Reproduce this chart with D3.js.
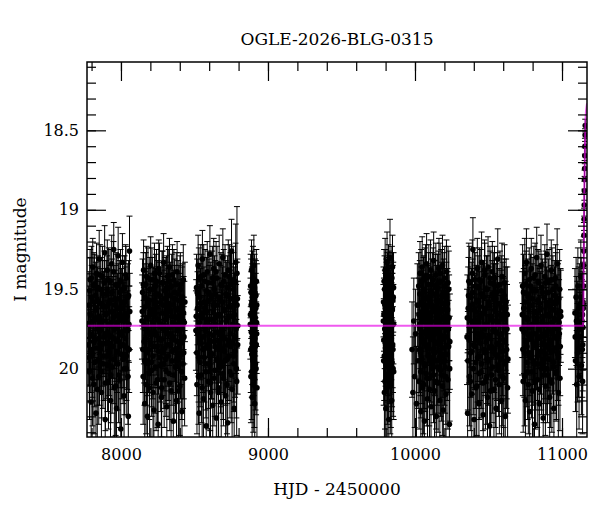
<!DOCTYPE html>
<html>
<head>
<meta charset="utf-8">
<script src="https://cdn.jsdelivr.net/npm/d3@7"></script>
<style>
  body { margin: 0; background: #fff; }
  text { font-family: "DejaVu Serif", serif; fill: #000; }
</style>
</head>
<body>
<svg width="600" height="512"></svg>
<script>
var title = "OGLE-2026-BLG-0315";
var xLabel = "HJD - 2450000";
var yLabel = "I magnitude";
var xTicks = [8000, 9000, 10000, 11000];
var yTicks = [18.5, 19, 19.5, 20];

// [HJD-2450000, I mag, error]
var season1 = [[7778,19.85,.26],[7782,19.60,.21],[7786,20.02,.30],[7790,19.44,.19],[7793,19.78,.24],[7797,20.21,.33],[7801,19.55,.20],[7805,19.91,.27],[7808,19.36,.18],[7812,19.70,.23],[7816,20.10,.31],[7819,19.48,.20],[7823,19.82,.25],[7827,19.63,.22],[7830,20.28,.35],[7834,19.40,.19],[7838,19.95,.28],[7841,19.57,.21],[7845,19.75,.24],[7849,20.05,.30],[7852,19.31,.18],[7856,19.68,.23],[7860,19.88,.26],[7863,19.50,.20],[7867,20.15,.32],[7871,19.73,.24],[7874,19.42,.19],[7878,19.97,.28],[7882,19.61,.22],[7885,19.80,.25],[7889,19.27,.17],[7893,20.32,.36],[7896,19.66,.23],[7900,19.53,.21],[7904,19.92,.27],[7907,19.38,.19],[7911,19.77,.24],[7915,20.08,.30],[7918,19.59,.21],[7922,19.84,.26],[7926,19.45,.20],[7929,20.20,.33],[7933,19.71,.24],[7937,19.34,.18],[7940,19.99,.29],[7944,19.64,.22],[7948,19.81,.25],[7951,19.25,.17],[7955,20.12,.31],[7959,19.56,.21],[7962,19.74,.24],[7966,19.47,.20],[7970,20.25,.34],[7973,19.89,.26],[7977,19.62,.22],[7981,19.29,.18],[7984,20.04,.30],[7988,19.69,.23],[7992,19.52,.20],[7995,19.86,.26],[7999,20.38,.37],[8003,19.58,.21],[8006,19.79,.25],[8010,19.33,.18],[8014,19.94,.28],[8017,19.67,.23],[8021,20.17,.32],[8025,19.49,.20],[8028,19.76,.24],[8032,19.41,.19],[8036,20.00,.29],[8039,19.65,.22],[8043,19.87,.26],[8047,19.55,.21],[8050,20.30,.35],[8054,19.72,.24],[8058,19.26,.22]];
var season1b = [[7780,19.72,.24],[7784,19.93,.28],[7788,19.51,.21],[7791,19.66,.23],[7795,19.88,.27],[7799,19.43,.20],[7803,19.79,.25],[7806,20.06,.30],[7810,19.58,.22],[7814,19.83,.26],[7817,19.47,.20],[7821,19.96,.28],[7825,19.69,.24],[7828,19.54,.21],[7832,19.87,.27],[7836,19.62,.22],[7839,20.13,.32],[7843,19.49,.20],[7847,19.81,.26],[7850,19.67,.23],[7854,19.95,.28],[7858,19.41,.19],[7861,19.76,.25],[7865,19.59,.22],[7869,20.02,.29],[7872,19.85,.26],[7876,19.53,.21],[7880,19.70,.24],[7883,19.92,.28],[7887,19.46,.20],[7891,19.78,.25],[7894,20.09,.30],[7898,19.61,.22],[7902,19.84,.26],[7905,19.50,.21],[7909,19.98,.29],[7913,19.65,.23],[7916,19.44,.20],[7920,19.90,.27],[7924,19.73,.24],[7927,19.57,.22],[7931,20.04,.30],[7935,19.80,.26],[7938,19.52,.21],[7942,19.86,.27],[7946,19.68,.24],[7949,19.39,.19],[7953,19.94,.28],[7957,19.75,.25],[7960,19.60,.22],[7964,20.11,.31],[7968,19.82,.26],[7971,19.48,.20],[7975,19.71,.24],[7979,19.97,.29],[7982,19.56,.22],[7986,19.83,.26],[7990,19.66,.23],[7993,20.07,.30],[7997,19.45,.20],[8001,19.77,.25],[8004,19.91,.28],[8008,19.62,.22],[8012,19.50,.21],[8015,19.85,.27],[8019,19.70,.24],[8023,20.00,.29],[8026,19.58,.22],[8030,19.81,.26],[8034,19.43,.20],[8037,19.92,.28],[8041,19.67,.23],[8045,19.76,.25],[8048,20.05,.30],[8052,19.54,.22],[8056,19.88,.27],[8060,19.64,.24]];
var season2 = [[8143,19.70,.24],[8147,19.52,.21],[8151,20.05,.30],[8154,19.38,.19],[8158,19.83,.26],[8162,20.22,.34],[8165,19.61,.22],[8169,19.47,.20],[8173,19.95,.28],[8176,19.74,.24],[8180,20.30,.36],[8184,19.43,.19],[8187,19.88,.27],[8191,19.57,.21],[8195,20.12,.31],[8198,19.66,.23],[8202,19.35,.18],[8206,19.79,.25],[8209,20.01,.29],[8213,19.50,.20],[8217,19.92,.27],[8220,19.63,.22],[8224,20.26,.35],[8228,19.40,.19],[8231,19.77,.24],[8235,19.58,.21],[8239,20.09,.30],[8242,19.45,.20],[8246,19.86,.26],[8250,19.69,.23],[8253,20.35,.37],[8257,19.37,.18],[8261,19.81,.25],[8264,19.54,.21],[8268,19.98,.29],[8272,19.72,.24],[8275,20.18,.33],[8279,19.46,.20],[8283,19.90,.27],[8286,19.60,.22],[8290,19.33,.18],[8294,20.07,.30],[8297,19.75,.24],[8301,19.51,.21],[8305,19.94,.28],[8308,19.67,.23],[8312,20.24,.34],[8316,19.42,.19],[8319,19.85,.26],[8323,19.59,.22],[8327,20.03,.29],[8330,19.36,.18],[8334,19.78,.25],[8338,19.64,.23],[8341,20.14,.32],[8345,19.48,.20],[8349,19.89,.27],[8352,19.71,.24],[8356,20.33,.36],[8360,19.44,.19],[8363,19.82,.26],[8367,19.56,.21],[8371,19.99,.29],[8374,19.68,.23],[8378,20.20,.33],[8382,19.39,.19],[8385,19.76,.24],[8389,19.53,.21],[8393,19.93,.28],[8396,19.62,.22],[8400,20.11,.31],[8404,19.47,.20],[8407,19.84,.26],[8411,19.70,.24],[8415,20.27,.35],[8418,19.55,.21],[8422,19.97,.28],[8426,19.65,.23],[8429,19.80,.25],[8433,20.06,.30]];
var season2b = [[8145,19.64,.23],[8149,19.88,.27],[8152,19.47,.20],[8156,19.73,.24],[8160,19.95,.28],[8163,19.55,.21],[8167,19.81,.26],[8171,20.10,.31],[8174,19.42,.19],[8178,19.68,.23],[8182,19.90,.27],[8185,19.59,.22],[8189,19.77,.25],[8193,20.03,.29],[8196,19.50,.20],[8200,19.84,.26],[8204,19.63,.23],[8207,19.96,.28],[8211,19.44,.20],[8215,19.71,.24],[8218,20.15,.32],[8222,19.57,.21],[8226,19.86,.26],[8229,19.66,.23],[8233,19.99,.29],[8237,19.48,.20],[8240,19.79,.25],[8244,19.61,.22],[8248,20.07,.30],[8251,19.53,.21],[8255,19.89,.27],[8259,19.70,.24],[8262,19.40,.19],[8266,19.93,.28],[8270,19.58,.22],[8273,19.82,.26],[8277,20.12,.31],[8281,19.65,.23],[8284,19.46,.20],[8288,19.75,.25],[8292,19.97,.28],[8295,19.56,.21],[8299,19.87,.27],[8303,19.69,.24],[8306,20.01,.29],[8310,19.49,.20],[8314,19.78,.25],[8317,19.62,.22],[8321,19.92,.28],[8325,19.45,.20],[8328,19.74,.24],[8332,20.09,.30],[8336,19.54,.21],[8339,19.85,.26],[8343,19.67,.23],[8347,19.95,.28],[8350,19.41,.19],[8354,19.80,.25],[8358,19.60,.22],[8361,20.04,.30],[8365,19.52,.21],[8369,19.88,.27],[8372,19.72,.24],[8376,19.47,.20],[8380,19.94,.28],[8383,19.63,.23],[8387,19.83,.26],[8391,20.14,.32],[8394,19.57,.22],[8398,19.76,.25],[8402,19.50,.21],[8405,19.91,.28],[8409,19.68,.24],[8413,20.02,.30],[8416,19.59,.23],[8420,19.81,.26],[8424,19.44,.22],[8427,19.90,.29],[8431,19.71,.26],[8435,19.58,.25]];
var season3 = [[8510,19.76,.25],[8514,19.49,.21],[8517,20.10,.31],[8521,19.62,.23],[8525,19.35,.19],[8528,19.93,.28],[8532,20.28,.35],[8536,19.55,.21],[8539,19.81,.26],[8543,19.42,.20],[8547,20.04,.30],[8550,19.68,.24],[8554,19.31,.18],[8558,19.88,.27],[8561,20.19,.33],[8565,19.58,.22],[8569,19.74,.24],[8572,19.45,.20],[8576,19.97,.29],[8580,20.36,.37],[8583,19.64,.23],[8587,19.39,.19],[8591,19.85,.26],[8594,20.08,.30],[8598,19.52,.21],[8602,19.78,.25],[8605,19.28,.18],[8609,20.15,.32],[8613,19.69,.24],[8616,19.91,.28],[8620,19.46,.20],[8624,20.23,.34],[8627,19.60,.22],[8631,19.37,.19],[8635,19.83,.26],[8638,20.01,.29],[8642,19.53,.21],[8646,19.72,.24],[8649,20.31,.36],[8653,19.43,.20],[8657,19.87,.27],[8660,19.66,.23],[8664,20.12,.31],[8668,19.34,.18],[8671,19.79,.25],[8675,19.57,.22],[8679,19.96,.28],[8682,20.21,.34],[8686,19.48,.20],[8690,19.75,.24],[8693,19.30,.18],[8697,20.06,.30],[8701,19.63,.23],[8704,19.89,.27],[8708,19.41,.19],[8712,20.17,.32],[8715,19.70,.24],[8719,19.54,.21],[8723,19.94,.28],[8726,20.34,.36],[8730,19.38,.19],[8734,19.82,.26],[8737,19.61,.22],[8741,20.02,.29],[8745,19.47,.20],[8748,19.86,.27],[8752,19.26,.20],[8756,20.13,.31],[8759,19.67,.23],[8763,19.44,.21],[8767,19.92,.29],[8770,20.25,.35],[8774,19.59,.23],[8778,19.80,.26],[8781,19.33,.24],[8785,20.00,.31],[8789,19.40,.42],[8792,19.56,.25],[8795,19.73,.28]];
var season3b = [[8512,19.67,.23],[8516,19.90,.27],[8519,19.52,.21],[8523,19.78,.25],[8527,20.05,.30],[8530,19.44,.20],[8534,19.71,.24],[8538,19.96,.28],[8541,19.59,.22],[8545,19.84,.26],[8549,19.48,.20],[8552,20.12,.31],[8556,19.65,.23],[8560,19.80,.26],[8563,19.41,.19],[8567,19.93,.28],[8571,19.62,.22],[8574,19.76,.25],[8578,20.02,.29],[8581,19.51,.21],[8585,19.87,.27],[8589,19.69,.24],[8592,19.46,.20],[8596,19.97,.28],[8600,19.57,.22],[8603,19.82,.26],[8607,20.09,.30],[8611,19.54,.21],[8614,19.73,.24],[8618,19.91,.28],[8622,19.43,.20],[8625,19.79,.25],[8629,19.64,.23],[8633,20.06,.30],[8636,19.50,.21],[8640,19.86,.27],[8644,19.68,.24],[8647,19.39,.19],[8651,19.94,.28],[8655,19.60,.22],[8658,19.77,.25],[8662,20.15,.32],[8666,19.55,.21],[8669,19.83,.26],[8673,19.66,.23],[8677,19.99,.29],[8680,19.47,.20],[8684,19.74,.24],[8688,19.88,.27],[8691,19.58,.22],[8695,20.03,.29],[8699,19.45,.20],[8702,19.81,.26],[8706,19.63,.23],[8710,19.95,.28],[8713,19.53,.21],[8717,19.70,.24],[8721,20.10,.31],[8724,19.49,.20],[8728,19.85,.27],[8732,19.67,.24],[8735,19.92,.28],[8739,19.42,.20],[8743,19.78,.25],[8746,19.61,.23],[8750,20.04,.30],[8754,19.56,.22],[8757,19.84,.27],[8761,19.72,.25],[8765,19.50,.23],[8768,19.97,.30],[8772,19.66,.26],[8776,19.89,.29],[8779,19.45,.24],[8783,19.75,.28],[8787,20.08,.34],[8790,19.60,.27],[8794,19.85,.31]];
var season4 = [[8880,19.72,.22],[8882,19.48,.20],[8884,20.05,.29],[8886,19.60,.21],[8888,19.38,.19],[8890,19.91,.27],[8892,20.18,.32],[8894,19.55,.21],[8896,19.80,.25],[8898,19.43,.20],[8900,20.10,.30],[8902,19.66,.23],[8904,19.35,.19],[8906,19.95,.28],[8908,19.74,.24],[8910,20.22,.33],[8912,19.52,.21],[8914,19.86,.26],[8917,19.62,.22],[8919,20.00,.29],[8921,19.45,.20],[8923,19.78,.25],[8925,20.12,.40]];
var season4b = [[8881,19.66,.23],[8883,19.88,.27],[8885,19.52,.21],[8887,19.77,.25],[8889,20.02,.30],[8891,19.58,.22],[8893,19.84,.26],[8895,19.46,.20],[8897,19.95,.28],[8899,19.70,.24],[8901,19.56,.22],[8903,19.90,.27],[8905,19.63,.23],[8907,20.06,.31],[8909,19.49,.21],[8911,19.81,.26],[8913,19.68,.24],[8915,19.97,.29],[8918,19.54,.22],[8920,19.85,.27],[8922,19.71,.25],[8924,19.60,.26]];
var season5 = [[9785,19.70,.23],[9787,19.95,.28],[9790,19.45,.20],[9792,20.15,.32],[9795,19.60,.22],[9797,19.38,.20],[9800,19.85,.26],[9802,20.25,.34],[9805,19.52,.21],[9807,19.76,.24],[9810,19.33,.19],[9812,20.05,.30],[9815,19.65,.23],[9817,19.90,.27],[9820,19.42,.20],[9822,20.32,.36],[9825,19.57,.22],[9827,19.80,.25],[9830,19.30,.24],[9832,20.10,.31],[9835,19.68,.23],[9837,19.48,.21],[9840,19.98,.29],[9842,20.20,.33],[9845,19.62,.22],[9847,19.36,.20],[9850,19.88,.27],[9852,19.55,.22],[9855,20.02,.30]];
var season5b = [[9786,19.58,.22],[9788,19.82,.26],[9789,19.66,.23],[9791,19.92,.28],[9793,19.50,.21],[9794,19.75,.25],[9796,20.08,.30],[9798,19.62,.22],[9799,19.87,.27],[9801,19.45,.20],[9803,19.71,.24],[9804,19.97,.29],[9806,19.55,.22],[9808,19.80,.26],[9809,19.64,.23],[9811,20.12,.32],[9813,19.48,.21],[9814,19.78,.25],[9816,19.93,.28],[9818,19.59,.22],[9819,19.73,.24],[9821,20.03,.29],[9823,19.51,.21],[9824,19.84,.26],[9826,19.67,.23],[9828,19.94,.28],[9829,19.46,.20],[9831,19.77,.25],[9833,19.60,.22],[9834,19.89,.27],[9836,20.07,.30],[9838,19.53,.21],[9839,19.81,.26],[9841,19.70,.24],[9843,19.43,.20],[9844,19.96,.28],[9846,19.63,.23],[9848,19.85,.27],[9849,19.57,.22],[9851,20.00,.30],[9853,19.72,.25],[9854,19.49,.22]];
var season6 = [[9980,19.88,.30],[9986,20.15,.35],[9992,19.70,.27],[9998,20.05,.32],[10004,19.78,.28],[10010,20.22,.36],[10016,19.60,.26],[10021,19.95,.30],[10025,19.48,.21],[10028,20.08,.30],[10031,19.72,.24],[10034,19.40,.20],[10037,19.90,.27],[10040,20.27,.35],[10043,19.58,.22],[10046,19.82,.26],[10049,19.36,.19],[10052,20.12,.31],[10055,19.66,.23],[10058,19.51,.21],[10061,19.97,.28],[10064,20.33,.36],[10067,19.44,.20],[10070,19.77,.25],[10073,19.62,.22],[10076,20.03,.29],[10079,19.34,.19],[10082,19.87,.27],[10085,20.19,.33],[10088,19.55,.21],[10091,19.74,.24],[10094,19.42,.20],[10097,20.06,.30],[10100,19.69,.23],[10103,19.93,.28],[10106,19.38,.19],[10109,20.24,.34],[10112,19.60,.22],[10115,19.80,.25],[10118,19.47,.20],[10121,20.00,.29],[10124,19.64,.23],[10127,19.32,.18],[10130,19.89,.27],[10133,20.14,.32],[10136,19.53,.21],[10139,19.76,.24],[10142,19.41,.20],[10145,20.30,.36],[10148,19.67,.23],[10151,19.95,.28],[10154,19.49,.21],[10157,20.09,.31],[10160,19.71,.24],[10163,19.37,.19],[10166,19.84,.26],[10169,20.20,.33],[10172,19.57,.22],[10175,19.79,.25],[10178,19.45,.20],[10181,20.04,.29],[10184,19.63,.23],[10187,19.35,.19],[10190,19.91,.27],[10193,20.26,.35],[10196,19.52,.21],[10199,19.73,.24],[10202,19.43,.20],[10205,19.99,.29],[10208,19.68,.23],[10211,20.16,.32],[10214,19.39,.20],[10217,19.86,.27],[10220,19.59,.22],[10224,20.07,.31],[10227,19.75,.26],[10230,19.50,.24],[10234,20.35,.40],[10237,19.83,.30]];
var season6b = [[10027,19.66,.23],[10030,19.88,.27],[10033,19.53,.21],[10036,19.75,.25],[10039,20.02,.29],[10042,19.45,.20],[10045,19.70,.24],[10048,19.94,.28],[10051,19.60,.22],[10054,19.83,.26],[10057,20.10,.31],[10060,19.50,.21],[10063,19.77,.25],[10066,19.64,.23],[10069,19.98,.29],[10072,19.42,.20],[10075,19.85,.26],[10078,19.68,.24],[10081,20.06,.30],[10084,19.56,.21],[10087,19.79,.25],[10090,19.92,.28],[10093,19.47,.20],[10096,19.72,.24],[10099,20.13,.32],[10102,19.58,.22],[10105,19.81,.26],[10108,19.65,.23],[10111,19.96,.28],[10114,19.52,.21],[10117,19.74,.24],[10120,19.88,.27],[10123,19.44,.20],[10126,20.04,.30],[10129,19.61,.22],[10132,19.78,.25],[10135,19.90,.27],[10138,19.49,.21],[10141,19.70,.24],[10144,20.08,.30],[10147,19.57,.22],[10150,19.84,.26],[10153,19.66,.23],[10156,19.99,.29],[10159,19.46,.20],[10162,19.76,.25],[10165,19.93,.28],[10168,19.62,.23],[10171,19.40,.19],[10174,20.01,.29],[10177,19.69,.24],[10180,19.82,.26],[10183,19.54,.21],[10186,20.11,.31],[10189,19.73,.24],[10192,19.59,.22],[10195,19.87,.27],[10198,19.48,.21],[10201,19.95,.28],[10204,19.67,.24],[10207,19.80,.26],[10210,20.05,.30],[10213,19.55,.22],[10216,19.71,.25],[10219,19.91,.29],[10222,19.63,.24],[10225,19.46,.23],[10229,19.86,.29],[10232,19.68,.27],[10236,20.00,.33]];
var season7 = [[10354,19.80,.30],[10358,20.28,.38],[10362,19.62,.26],[10366,19.45,.24],[10370,20.05,.31],[10374,19.74,.25],[10378,19.90,.28],[10382,19.55,.22],[10386,20.16,.33],[10390,19.40,.21],[10394,19.25,.20],[10398,19.85,.27],[10402,20.32,.37],[10405,19.63,.23],[10409,19.48,.21],[10413,19.96,.29],[10416,19.71,.24],[10420,20.11,.31],[10424,19.37,.19],[10427,19.82,.26],[10431,19.58,.22],[10435,20.22,.34],[10438,19.44,.20],[10442,19.92,.28],[10446,19.67,.23],[10449,20.02,.29],[10453,19.33,.19],[10457,19.78,.25],[10460,19.53,.21],[10464,20.29,.35],[10468,19.65,.23],[10471,19.88,.27],[10475,19.41,.20],[10479,20.08,.30],[10482,19.72,.24],[10486,19.50,.21],[10490,19.94,.28],[10493,20.18,.33],[10497,19.36,.19],[10501,19.81,.26],[10504,19.60,.22],[10508,20.36,.37],[10512,19.46,.20],[10515,19.87,.27],[10519,19.69,.24],[10523,20.04,.30],[10526,19.39,.19],[10530,19.76,.25],[10534,19.56,.22],[10537,20.13,.32],[10541,19.43,.20],[10545,19.91,.28],[10548,19.64,.23],[10552,20.25,.34],[10556,19.52,.21],[10559,19.84,.26],[10563,19.31,.19],[10567,19.98,.29],[10570,19.70,.24],[10574,20.10,.31],[10578,19.47,.21],[10581,19.79,.25],[10585,19.61,.23],[10589,20.20,.34],[10592,19.42,.21],[10596,19.89,.28],[10600,19.66,.24],[10603,20.06,.31],[10607,19.54,.23],[10611,19.83,.27],[10614,20.30,.38],[10618,19.62,.26],[10622,19.95,.30],[10626,19.75,.28],[10630,20.12,.34]];
var season7b = [[10356,19.68,.27],[10360,19.95,.31],[10364,19.54,.24],[10368,19.82,.27],[10372,19.46,.23],[10376,20.08,.31],[10380,19.70,.25],[10384,19.60,.23],[10388,19.89,.27],[10392,19.52,.21],[10396,20.00,.29],[10400,19.73,.24],[10404,19.44,.20],[10407,19.86,.27],[10411,19.64,.23],[10415,20.12,.31],[10418,19.57,.22],[10422,19.78,.25],[10426,19.93,.28],[10429,19.49,.20],[10433,19.71,.24],[10437,20.03,.29],[10440,19.61,.22],[10444,19.84,.26],[10448,19.45,.20],[10451,19.97,.28],[10455,19.66,.23],[10459,19.80,.26],[10462,20.09,.30],[10466,19.55,.21],[10470,19.75,.25],[10473,19.38,.19],[10477,19.90,.27],[10481,19.62,.22],[10484,19.83,.26],[10488,20.05,.30],[10492,19.50,.21],[10495,19.73,.24],[10499,19.95,.28],[10503,19.58,.22],[10506,19.79,.25],[10510,19.43,.20],[10514,20.14,.32],[10517,19.67,.23],[10521,19.86,.27],[10525,19.53,.21],[10528,19.99,.29],[10532,19.70,.24],[10536,19.47,.20],[10539,19.88,.27],[10543,19.63,.23],[10547,20.07,.30],[10550,19.56,.22],[10554,19.77,.25],[10558,19.92,.28],[10561,19.48,.21],[10565,19.72,.24],[10569,20.01,.29],[10572,19.59,.22],[10576,19.85,.26],[10580,19.66,.24],[10583,19.94,.28],[10587,19.51,.22],[10591,19.78,.26],[10594,20.05,.31],[10598,19.57,.24],[10602,19.82,.27],[10605,19.69,.26],[10609,19.46,.24],[10613,19.97,.31],[10616,19.73,.28],[10620,19.58,.27],[10624,19.88,.31],[10628,19.66,.30],[10632,19.94,.34]];
var season8 = [[10728,19.75,.29],[10732,19.48,.26],[10736,20.08,.32],[10740,19.62,.25],[10744,19.90,.28],[10747,19.40,.22],[10751,20.20,.34],[10755,19.68,.24],[10758,19.33,.21],[10762,19.86,.27],[10766,20.02,.30],[10769,19.55,.22],[10773,19.79,.25],[10777,19.44,.20],[10780,20.27,.35],[10784,19.60,.22],[10788,19.93,.28],[10791,19.37,.19],[10795,19.73,.24],[10799,20.14,.32],[10802,19.51,.21],[10806,19.84,.26],[10810,19.65,.23],[10813,20.35,.37],[10817,19.41,.20],[10821,19.97,.29],[10824,19.70,.24],[10828,19.30,.19],[10832,20.07,.30],[10835,19.57,.22],[10839,19.81,.26],[10843,19.46,.20],[10846,20.22,.34],[10850,19.63,.23],[10854,19.89,.27],[10857,19.35,.19],[10861,20.00,.29],[10865,19.72,.24],[10868,19.52,.21],[10872,20.31,.36],[10876,19.67,.23],[10879,19.94,.28],[10883,19.42,.20],[10887,20.11,.31],[10890,19.77,.25],[10894,19.58,.22],[10898,19.28,.19],[10901,20.04,.30],[10905,19.66,.23],[10909,19.87,.27],[10912,19.45,.20],[10916,20.18,.33],[10920,19.61,.22],[10923,19.83,.26],[10927,19.38,.19],[10931,20.09,.31],[10934,19.71,.24],[10938,19.50,.21],[10942,19.96,.29],[10945,20.25,.35],[10949,19.59,.23],[10953,19.80,.26],[10956,19.43,.21],[10960,20.03,.30],[10964,19.69,.25],[10967,19.34,.22],[10971,19.91,.29],[10975,20.15,.34],[10978,19.56,.24],[10982,19.78,.28],[10986,20.06,.33],[10990,19.64,.27]];
var season8b = [[10730,19.66,.27],[10734,19.88,.29],[10738,19.52,.24],[10742,19.77,.26],[10745,20.05,.31],[10749,19.58,.23],[10753,19.83,.26],[10756,19.47,.21],[10760,19.96,.28],[10764,19.69,.24],[10767,19.53,.22],[10771,20.10,.31],[10775,19.74,.25],[10778,19.61,.22],[10782,19.90,.27],[10786,19.48,.20],[10789,19.81,.26],[10793,20.02,.29],[10797,19.56,.22],[10800,19.72,.24],[10804,19.95,.28],[10808,19.43,.20],[10811,19.78,.25],[10815,19.64,.23],[10819,20.08,.30],[10822,19.51,.21],[10826,19.86,.27],[10830,19.68,.24],[10833,19.92,.28],[10837,19.45,.20],[10841,19.75,.25],[10844,20.13,.32],[10848,19.59,.22],[10852,19.80,.26],[10855,19.62,.23],[10859,19.97,.29],[10863,19.49,.21],[10866,19.84,.26],[10870,19.70,.24],[10874,20.04,.30],[10877,19.55,.22],[10881,19.79,.25],[10885,19.91,.28],[10888,19.46,.20],[10892,19.73,.24],[10896,20.00,.29],[10899,19.60,.22],[10903,19.85,.27],[10907,19.52,.21],[10910,19.94,.28],[10914,19.67,.24],[10918,19.82,.26],[10921,20.07,.30],[10925,19.57,.22],[10929,19.76,.25],[10932,19.44,.20],[10936,19.89,.27],[10940,19.63,.23],[10943,19.99,.29],[10947,19.54,.22],[10951,19.74,.25],[10954,19.87,.27],[10958,19.48,.21],[10962,20.02,.30],[10965,19.65,.24],[10969,19.80,.27],[10973,19.58,.24],[10976,19.93,.30],[10980,19.71,.27],[10984,19.50,.25],[10988,19.86,.31],[10992,19.67,.29]];
var season9 = [[11088,19.65,.28],[11090,19.80,.30],[11092,19.95,.32],[11096,19.55,.25],[11098,19.70,.28],[11100,20.10,.34],[11104,19.72,.27],[11106,19.90,.31],[11108,19.48,.24],[11112,19.88,.30],[11114,19.62,.26],[11116,20.05,.33],[11120,19.60,.26],[11122,19.75,.28],[11124,19.80,.28],[11128,19.42,.23],[11130,19.55,.25],[11132,19.98,.31],[11136,19.70,.26],[11138,19.88,.30],[11139,19.66,.27],[11140,20.08,.33],[11141,19.85,.29],[11142,19.74,.27],[11143,19.58,.25],[11144,19.60,.20]];
var rising = [[11145,19.62,.12],[11146,19.48,.11],[11147,19.35,.10],[11148,19.26,.09],[11149,19.16,.08],[11150,19.06,.07],[11151,18.97,.07],[11152,18.88,.06],[11153,18.81,.06],[11154,18.74,.05],[11155,18.66,.05],[11156,18.60,.05],[11157,18.53,.04],[11158,18.47,.04]];
var model = [[7769,19.73],[11143,19.73],[11145,19.68],[11147,19.45],[11149,19.15],[11151,18.95],[11153,18.80],[11155,18.68],[11157,18.55],[11159,18.45],[11163,18.38],[11170,18.33]];

var points = [].concat(season1, season1b, season2, season2b, season3, season3b,
    season4, season4b, season5, season5b, season6, season6b, season7, season7b,
    season8, season8b, season9, rising);

var svg = d3.select("svg"),
    x0 = 87, x1 = 587, y0 = 62, y1 = 437;

var x = d3.scaleLinear().domain([7769, 11170]).range([x0, x1]);
var y = d3.scaleLinear().domain([18.07, 20.43]).range([y0, y1]);

svg.append("clipPath").attr("id", "clip")
  .append("rect")
    .attr("x", x0).attr("y", y0)
    .attr("width", x1 - x0).attr("height", y1 - y0);

var plot = svg.append("g").attr("clip-path", "url(#clip)");

// error bars
var bars = plot.append("g")
    .attr("stroke", "#000")
    .attr("stroke-width", 1);

bars.selectAll("line.err")
  .data(points)
  .enter().append("line")
    .attr("class", "err")
    .attr("x1", function(d) { return x(d[0]); })
    .attr("x2", function(d) { return x(d[0]); })
    .attr("y1", function(d) { return y(d[1] - d[2]); })
    .attr("y2", function(d) { return y(d[1] + d[2]); });

bars.selectAll("line.capTop")
  .data(points)
  .enter().append("line")
    .attr("class", "capTop")
    .attr("x1", function(d) { return x(d[0]) - 3; })
    .attr("x2", function(d) { return x(d[0]) + 3; })
    .attr("y1", function(d) { return y(d[1] - d[2]); })
    .attr("y2", function(d) { return y(d[1] - d[2]); });

bars.selectAll("line.capBot")
  .data(points)
  .enter().append("line")
    .attr("class", "capBot")
    .attr("x1", function(d) { return x(d[0]) - 3; })
    .attr("x2", function(d) { return x(d[0]) + 3; })
    .attr("y1", function(d) { return y(d[1] + d[2]); })
    .attr("y2", function(d) { return y(d[1] + d[2]); });

plot.append("g").selectAll("circle")
  .data(points)
  .enter().append("circle")
    .attr("cx", function(d) { return x(d[0]); })
    .attr("cy", function(d) { return y(d[1]); })
    .attr("r", 2.8)
    .attr("fill", "#000");

var line = d3.line()
    .x(function(d) { return x(d[0]); })
    .y(function(d) { return y(d[1]); });

plot.append("path")
    .datum(model)
    .attr("d", line)
    .attr("fill", "none")
    .attr("stroke", "#e600e6")
    .attr("stroke-opacity", 0.65)
    .attr("stroke-width", 2);

// axes, ticks pointing inward on all four sides
var xMinor = d3.range(7800, 11170, 200);
var yMinor = d3.range(181, 205).map(function(v) { return v / 10; });

function drawAxis(axis, tx, ty) {
  var g = svg.append("g")
      .attr("transform", "translate(" + tx + "," + ty + ")")
      .call(axis);
  g.select(".domain").remove();
  g.selectAll("line").attr("stroke", "#000").attr("stroke-width", 1.2);
  g.selectAll("text")
      .style("font-family", "DejaVu Serif, serif")
      .style("font-size", "16px")
      .attr("fill", "#000");
  return g;
}

drawAxis(d3.axisBottom(x).tickValues(xMinor).tickSize(-9).tickFormat(""), 0, y1);
drawAxis(d3.axisTop(x).tickValues(xMinor).tickSize(-9).tickFormat(""), 0, y0);
drawAxis(d3.axisLeft(y).tickValues(yMinor).tickSize(-9).tickFormat(""), x0, 0);
drawAxis(d3.axisRight(y).tickValues(yMinor).tickSize(-9).tickFormat(""), x1, 0);

drawAxis(d3.axisBottom(x).tickValues(xTicks).tickSize(-19).tickPadding(12).tickFormat(d3.format("d")), 0, y1);
drawAxis(d3.axisTop(x).tickValues(xTicks).tickSize(-19).tickFormat(""), 0, y0);
drawAxis(d3.axisLeft(y).tickValues(yTicks).tickSize(-19).tickPadding(8).tickFormat(function(d) { return String(d); }), x0, 0);
drawAxis(d3.axisRight(y).tickValues(yTicks).tickSize(-19).tickFormat(""), x1, 0);

svg.append("rect")
    .attr("x", x0).attr("y", y0)
    .attr("width", x1 - x0).attr("height", y1 - y0)
    .attr("fill", "none")
    .attr("stroke", "#000")
    .attr("stroke-width", 1.5);

svg.append("text")
    .attr("x", (x0 + x1) / 2)
    .attr("y", 45)
    .attr("text-anchor", "middle")
    .style("font-size", "17px")
    .text(title);

svg.append("text")
    .attr("x", (x0 + x1) / 2)
    .attr("y", 495)
    .attr("text-anchor", "middle")
    .style("font-size", "17px")
    .text(xLabel);

svg.append("text")
    .attr("transform", "translate(26," + ((y0 + y1) / 2) + ") rotate(-90)")
    .attr("text-anchor", "middle")
    .style("font-size", "17px")
    .text(yLabel);
</script>
</body>
</html>
